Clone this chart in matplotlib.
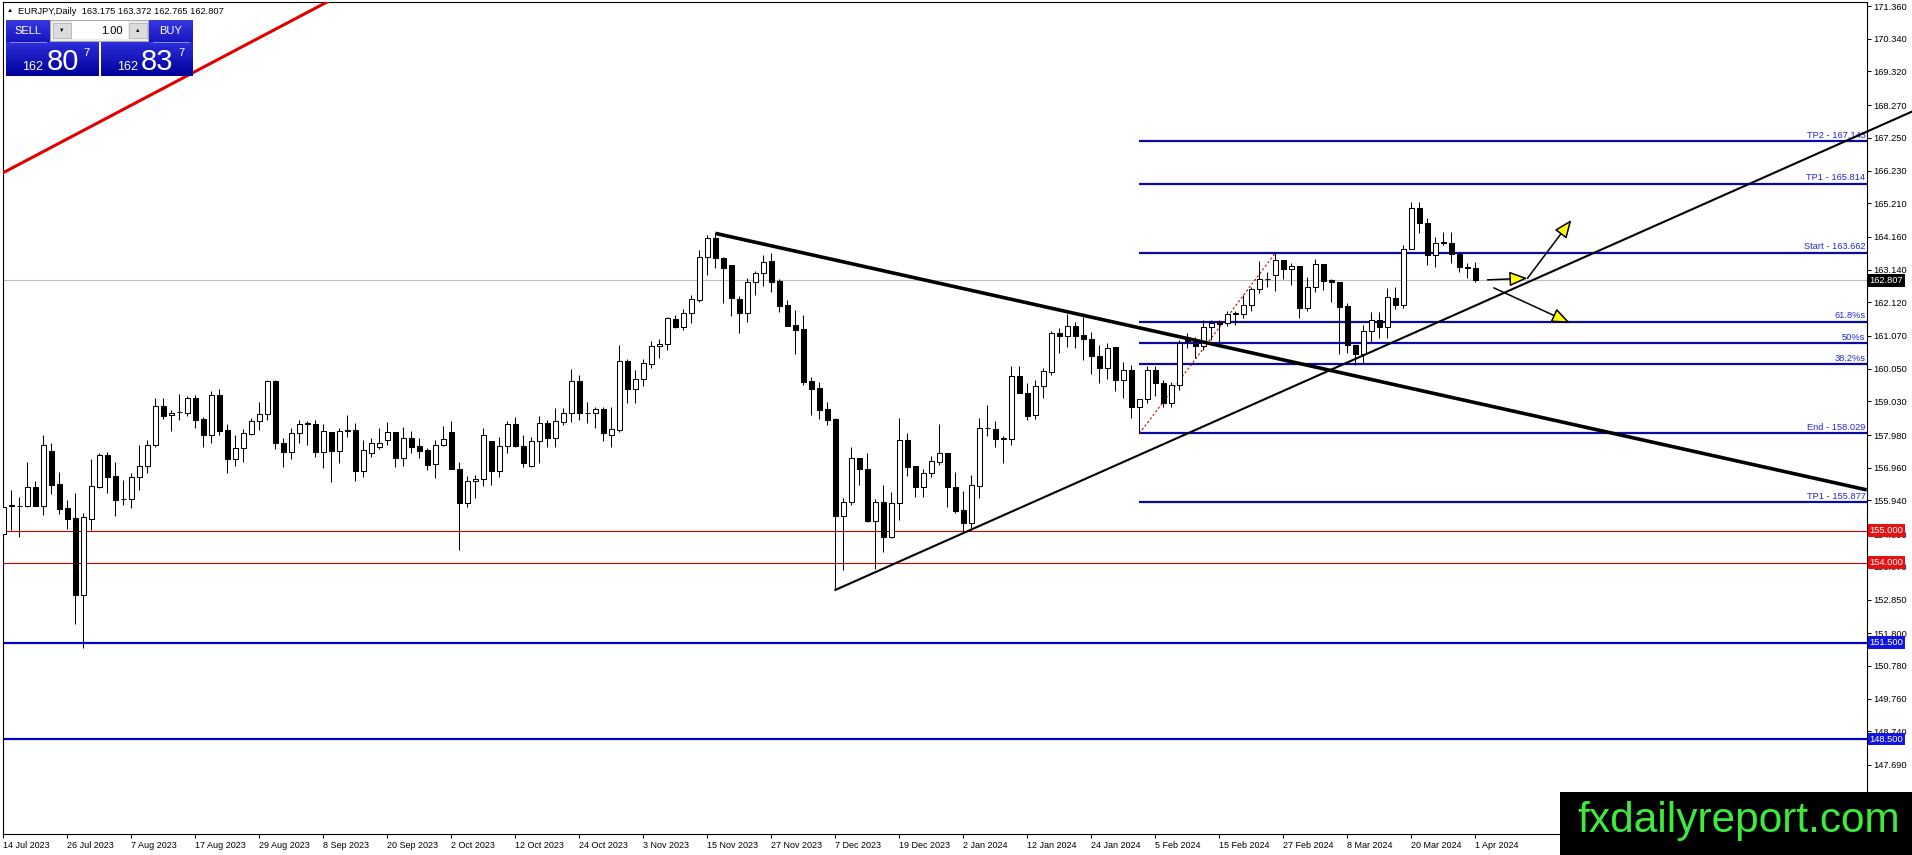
import numpy as np
import matplotlib.pyplot as plt
from matplotlib.patches import Rectangle, FancyArrowPatch
from matplotlib.transforms import blended_transform_factory

plt.rcParams['font.family'] = ['Liberation Sans', 'DejaVu Sans']

# EURJPY daily candles, 14 Jul 2023 .. 1 Apr 2024
opens = [154.90, 155.78, 155.78, 155.78, 156.35, 155.78, 157.49, 156.46, 155.70, 155.38,
         152.99, 155.36, 156.37, 157.36, 156.71, 155.98, 156.00, 156.66, 157.00, 157.67,
         158.89, 158.59, 158.69, 158.68, 159.13, 158.47, 157.98, 159.23, 158.14, 157.24,
         157.57, 158.02, 158.43, 158.64, 159.67, 157.72, 157.46, 158.04, 158.33, 158.32,
         157.46, 158.09, 157.49, 158.13, 158.14, 156.87, 157.43, 157.62, 157.83, 158.09,
         157.26, 157.88, 157.64, 157.52, 157.07, 157.67, 158.09, 156.92, 155.87, 156.55,
         156.61, 157.78, 156.86, 157.64, 158.33, 157.64, 157.00, 157.80, 158.35, 157.88,
         158.40, 158.68, 159.67, 158.68, 158.66, 158.78, 157.98, 158.14, 160.29, 159.41,
         159.72, 160.18, 160.76, 160.81, 161.59, 161.36, 161.78, 162.19, 163.52, 164.11,
         163.49, 163.28, 162.21, 161.80, 162.74, 163.02, 163.41, 162.78, 162.04, 161.41,
         161.28, 159.65, 159.44, 158.79, 158.47, 155.47, 155.90, 157.26, 156.91, 155.31,
         155.90, 154.79, 155.87, 157.84, 157.01, 156.37, 156.79, 157.15, 157.41, 156.35,
         155.64, 155.25, 156.40, 158.19, 158.17, 157.86, 157.85, 159.83, 159.30, 158.61,
         159.52, 159.96, 161.15, 161.07, 161.38, 161.10, 160.96, 160.45, 160.06, 160.74,
         159.70, 160.01, 158.87, 159.10, 160.01, 159.61, 158.97, 159.54, 160.94, 160.82,
         160.76, 161.36, 161.49, 161.46, 161.77, 161.75, 162.03, 162.52, 162.84, 162.97,
         163.44, 163.15, 163.25, 161.95, 162.60, 163.31, 162.81, 162.74, 162.00, 160.79,
         160.51, 161.23, 161.57, 161.34, 162.24, 162.04, 163.77, 165.05, 164.58, 163.59,
         163.98, 163.98, 163.62, 163.22, 163.175]
highs = [156.06, 156.27, 156.06, 157.15, 156.55, 157.98, 157.72, 156.82, 155.94, 156.16,
         155.54, 157.23, 157.43, 157.44, 157.15, 156.58, 156.81, 157.67, 157.83, 159.12,
         159.15, 158.76, 159.26, 159.20, 159.23, 158.54, 159.34, 159.41, 158.33, 157.98,
         158.16, 158.50, 159.02, 159.70, 159.70, 157.88, 158.19, 158.45, 158.43, 158.45,
         158.32, 158.09, 158.19, 158.61, 158.37, 157.83, 157.88, 158.19, 158.40, 158.09,
         158.24, 158.12, 157.88, 157.57, 157.83, 158.26, 158.42, 157.13, 156.70, 156.74,
         158.19, 157.78, 157.91, 158.43, 158.53, 157.98, 157.91, 158.56, 158.45, 158.81,
         158.81, 160.03, 159.85, 159.02, 158.84, 158.84, 158.87, 160.79, 160.34, 160.01,
         160.34, 160.92, 160.98, 161.67, 161.72, 161.90, 162.35, 163.75, 164.22, 164.27,
         163.54, 163.28, 162.32, 162.87, 163.10, 163.59, 163.67, 162.84, 162.19, 161.88,
         161.72, 159.80, 159.62, 159.02, 158.52, 156.01, 157.60, 157.26, 157.41, 155.97,
         156.42, 156.21, 158.50, 158.03, 157.01, 156.91, 157.33, 158.32, 157.41, 156.84,
         156.24, 156.74, 158.50, 158.91, 158.43, 157.95, 160.13, 160.13, 159.61, 159.70,
         160.06, 161.24, 161.31, 161.75, 161.49, 161.67, 161.20, 160.79, 160.84, 160.74,
         160.27, 160.17, 159.10, 160.13, 160.13, 159.70, 159.64, 160.94, 161.17, 161.05,
         161.57, 161.57, 161.57, 161.86, 161.85, 162.35, 162.61, 163.42, 163.07, 163.66,
         163.44, 163.33, 163.25, 162.91, 163.46, 163.31, 162.86, 162.74, 162.11, 160.79,
         161.41, 161.83, 161.83, 162.58, 162.61, 163.92, 165.26, 165.26, 164.74, 164.17,
         164.32, 164.32, 163.66, 163.33, 163.372]
lows = [154.08, 155.02, 154.79, 155.75, 155.76, 155.49, 156.14, 155.52, 155.05, 152.09,
        151.33, 155.02, 156.32, 156.16, 155.46, 155.80, 155.70, 156.27, 156.81, 157.60,
        158.47, 158.11, 158.45, 158.56, 158.19, 157.60, 157.72, 157.98, 156.79, 157.02,
        157.15, 157.98, 158.14, 158.45, 157.54, 156.97, 157.24, 157.72, 157.67, 157.29,
        156.94, 156.50, 157.10, 157.93, 156.56, 156.66, 157.29, 157.54, 157.67, 156.97,
        157.02, 157.41, 157.26, 156.89, 156.63, 157.64, 156.91, 154.38, 155.75, 156.01,
        156.39, 156.42, 156.68, 157.43, 157.62, 156.97, 156.97, 157.10, 157.60, 157.60,
        158.29, 158.40, 158.45, 158.35, 158.19, 157.80, 157.62, 158.08, 158.99, 158.99,
        159.52, 160.08, 160.37, 160.63, 161.31, 161.26, 161.46, 162.14, 162.97, 163.18,
        162.09, 161.70, 161.17, 161.49, 162.35, 162.63, 162.45, 161.83, 161.38, 160.51,
        159.54, 158.60, 158.47, 158.29, 153.15, 153.77, 155.80, 156.42, 155.28, 153.79,
        154.34, 154.76, 155.33, 156.70, 156.06, 156.06, 156.66, 157.05, 155.75, 155.56,
        155.00, 155.02, 156.01, 157.95, 157.62, 157.12, 157.67, 159.30, 158.45, 158.47,
        159.14, 159.85, 160.55, 160.73, 160.68, 160.32, 159.88, 159.61, 159.72, 159.34,
        159.15, 158.50, 158.03, 158.97, 159.20, 158.87, 158.87, 159.38, 160.68, 160.37,
        160.63, 160.94, 160.84, 161.38, 161.41, 161.64, 161.86, 162.40, 162.61, 162.48,
        162.84, 162.66, 161.62, 161.86, 162.45, 162.50, 162.14, 160.51, 160.55, 160.16,
        160.20, 160.89, 161.00, 161.00, 161.90, 161.93, 163.77, 164.27, 163.28, 163.23,
        163.90, 163.36, 163.07, 162.87, 162.765]
closes = [155.75, 155.79, 155.77, 156.35, 155.78, 157.67, 156.42, 155.68, 155.36, 152.99,
          155.42, 156.39, 157.36, 156.68, 155.96, 155.99, 156.66, 157.02, 157.67, 158.89,
          158.57, 158.68, 158.70, 159.13, 158.45, 157.98, 159.23, 158.11, 157.24, 157.57,
          158.04, 158.43, 158.64, 159.67, 157.72, 157.46, 158.04, 158.32, 158.35, 157.46,
          158.11, 157.49, 158.11, 158.11, 156.87, 157.52, 157.72, 157.72, 158.09, 157.26,
          157.88, 157.62, 157.49, 157.05, 157.67, 157.86, 156.92, 155.87, 156.55, 156.61,
          157.98, 156.86, 157.64, 158.33, 157.63, 157.10, 157.80, 158.35, 157.88, 158.42,
          158.66, 159.67, 158.68, 158.66, 158.78, 158.03, 158.16, 160.29, 159.41, 159.72,
          160.22, 160.76, 160.81, 161.62, 161.36, 161.80, 162.21, 163.52, 164.11, 163.49,
          163.18, 162.24, 161.80, 162.74, 163.02, 163.37, 162.76, 162.01, 161.38, 161.26,
          159.62, 159.42, 158.77, 158.45, 155.47, 155.90, 157.26, 156.91, 155.31, 155.90,
          154.79, 155.87, 157.84, 156.99, 156.37, 156.79, 157.17, 157.41, 156.35, 155.62,
          155.25, 156.42, 158.19, 158.21, 157.85, 157.88, 159.83, 159.30, 158.57, 159.52,
          159.98, 161.15, 161.07, 161.38, 161.07, 160.96, 160.45, 160.06, 160.71, 159.70,
          160.01, 158.87, 159.10, 160.01, 159.61, 158.97, 159.54, 160.84, 160.92, 160.76,
          161.36, 161.46, 161.44, 161.77, 161.78, 162.03, 162.52, 162.84, 162.85, 163.44,
          163.15, 163.25, 161.95, 162.60, 163.30, 162.79, 162.74, 161.98, 160.79, 160.51,
          161.23, 161.57, 161.34, 162.27, 162.04, 163.77, 165.05, 164.58, 163.59, 163.98,
          163.99, 163.62, 163.23, 163.20, 162.807]

dates = ['14 Jul 2023', '26 Jul 2023', '7 Aug 2023', '17 Aug 2023', '29 Aug 2023',
         '8 Sep 2023', '20 Sep 2023', '2 Oct 2023', '12 Oct 2023', '24 Oct 2023',
         '3 Nov 2023', '15 Nov 2023', '27 Nov 2023', '7 Dec 2023', '19 Dec 2023',
         '2 Jan 2024', '12 Jan 2024', '24 Jan 2024', '5 Feb 2024', '15 Feb 2024',
         '27 Feb 2024', '8 Mar 2024', '20 Mar 2024', '1 Apr 2024']
price_ticks = [171.360, 170.340, 169.320, 168.270, 167.250, 166.230, 165.210, 164.160,
               163.140, 162.120, 161.070, 160.050, 159.030, 157.980, 156.960, 155.940,
               154.890, 153.870, 152.850, 151.800, 150.780, 149.760, 148.740, 147.690]

# fibo expansion drawn from bar 142
fib_levels = [167.143, 165.814, 163.662, 161.510, 160.846, 160.181, 158.029, 155.877]
fib_labels = ['TP2 - 167.143', 'TP1 - 165.814', 'Start - 163.662', '61.8%s', '50%s',
              '38.2%s', 'End - 158.029', 'TP1 - 155.877']
fib_start = 142
red_levels = [155.0, 154.0]
blue_levels = [151.5, 148.5]
last_price = 162.807

# trendlines / arrows as (bar, price) anchors
down_trend = [(89, 164.27), (232.9, 156.27)]
up_trend = [(104, 153.15), (232.9, 167.44)]
red_trend = [(-0.1, 166.15), (40.2, 171.45)]
fib_base = [(142, 158.029), (159, 163.662)]
arrows = [[(185.5, 162.82), (190.5, 162.87)],
          [(190.5, 162.87), (196.0, 164.69)],
          [(186.3, 162.57), (195.8, 161.48)]]

W, H = 1912, 855
fig = plt.figure(figsize=(W / 100, H / 100), dpi=100)
fig.patch.set_facecolor('white')
ax = fig.add_axes([2.7 / W, (H - 834) / H, (1866.7 - 2.7) / W, (834 - 2) / H])
ax.set_xlim(-0.075, 232.9)
ax.set_ylim(145.538, 171.485)


def extend(p0, p1, xe):
    (x0, y0), (x1, y1) = p0, p1
    return y0 + (y1 - y0) / (x1 - x0) * (xe - x0)


# levels
ax.axhline(last_price, color='#bcbcbc', lw=0.8, zorder=1)
for v in red_levels:
    ax.axhline(v, color='#d40000', lw=0.8, zorder=1)
for v in blue_levels:
    ax.axhline(v, color='#0000cc', lw=1.6, zorder=1)
ax.hlines(fib_levels, fib_start, 232.9, color='#0a0aa6', lw=1.6, zorder=1)
for v, t in zip(fib_levels, fib_labels):
    ax.text(232.75, v + 0.05, t, ha='right', va='bottom', fontsize=6.7,
            color='#2626d4', zorder=2)
ax.plot([p[0] for p in fib_base], [p[1] for p in fib_base], color='#c00000',
        lw=0.8, ls=(0, (2, 2)), zorder=2)

# candles
o, h, l, c = map(np.array, (opens, highs, lows, closes))
x = np.arange(len(o))
up = c >= o
ax.vlines(x, l, h, color='black', lw=0.75, zorder=3)
lo = np.minimum(o, c)
bh = np.maximum(np.abs(c - o), 0.004)
ax.bar(x[up], bh[up], bottom=lo[up], width=0.6, facecolor='white',
       edgecolor='black', lw=0.75, zorder=4)
ax.bar(x[~up], bh[~up], bottom=lo[~up], width=0.6, facecolor='black',
       edgecolor='black', lw=0.75, zorder=4)

# trendlines
xd = [down_trend[0][0], 232.9]
ax.plot(xd, [down_trend[0][1], extend(*down_trend, 232.9)], color='black', lw=2.6,
        zorder=5, solid_capstyle='butt')
xu = [up_trend[0][0], 240]
ax.plot(xu, [up_trend[0][1], extend(*up_trend, 240)], color='black', lw=1.5,
        zorder=5, clip_on=False)
xr = [red_trend[0][0], 46]
ax.plot(xr, [red_trend[0][1], extend(*red_trend, 46)], color='#e00000', lw=2.2, zorder=5)

for (p0, p1) in arrows:
    ax.add_patch(FancyArrowPatch(p0, p1, arrowstyle='-|>,head_length=11,head_width=4.5',
                                 mutation_scale=1, fc='#ffff00', ec='black', lw=1.1,
                                 zorder=6, clip_on=False, shrinkA=0, shrinkB=0))

# axes styling
for s in ax.spines.values():
    s.set_linewidth(0.8)
ax.yaxis.tick_right()
ax.set_yticks(price_ticks)
ax.set_yticklabels([f'{v:.3f}' for v in price_ticks])
ax.tick_params(axis='y', direction='out', length=3, width=0.75, pad=1.5, labelsize=6.7)
ax.set_xticks(x[::8])
ax.set_xticklabels(dates, ha='left')
ax.tick_params(axis='x', direction='out', length=3, width=0.75, pad=2, labelsize=6.5)

trans = blended_transform_factory(ax.transAxes, ax.transData)


def price_box(v, fc):
    ax.text(1.0016, v, f'{v:.3f}', transform=trans, ha='left', va='center',
            fontsize=6.7, color='white', zorder=7, clip_on=False,
            bbox=dict(boxstyle='square,pad=0.2', fc=fc, ec='none'))


price_box(last_price, 'black')
for v in red_levels:
    price_box(v, '#e81212')
for v in blue_levels:
    price_box(v, '#1414e0')

# overlay in pixel coords: header, trade panel, watermark
ov = fig.add_axes([0, 0, 1, 1], zorder=10)
ov.axis('off')
ov.patch.set_visible(False)


def grad_box(x0, y0, x1, y1, top=(0.18, 0.18, 0.86), bottom=(0.0, 0.0, 0.6)):
    g = np.linspace(0, 1, 32)[:, None, None]
    img = np.array(top)[None, None, :] * (1 - g) + np.array(bottom)[None, None, :] * g
    ov.imshow(img, extent=(x0, x1, y1, y0), aspect='auto', interpolation='bilinear',
              zorder=1)


ov.text(10, 11, '\u25b2', fontsize=4.5, ha='center', va='center', color='black')
ov.text(18, 11, 'EURJPY,Daily  163.175 163.372 162.765 162.807', fontsize=6.7,
        ha='left', va='center', color='black')

grad_box(6, 20, 49.3, 42.7, top=(0.22, 0.22, 0.88), bottom=(0.08, 0.08, 0.74))
grad_box(149.3, 20, 192.7, 42.7, top=(0.22, 0.22, 0.88), bottom=(0.08, 0.08, 0.74))
grad_box(6, 42.7, 98.7, 76)
grad_box(101, 42.7, 192.7, 76)
ov.plot([10, 46], [41.7, 41.7], color='#8c8cff', lw=0.7, zorder=2)
ov.plot([152.7, 189.3], [41.7, 41.7], color='#8c8cff', lw=0.7, zorder=2)
ov.text(27.6, 31.5, 'SELL', fontsize=8, color='white', ha='center', va='center', zorder=3)
ov.text(171, 31.5, 'BUY', fontsize=8, color='white', ha='center', va='center', zorder=3)

ov.add_patch(Rectangle((50, 20), 98, 21, fc='#ececec', ec='#a8a8a8', lw=0.7, zorder=1))
ov.add_patch(Rectangle((53, 23), 18, 15, fc='#dcdcdc', ec='#b4b4b4', lw=0.6, zorder=2))
ov.add_patch(Rectangle((72, 21.5), 56, 18, fc='white', ec='none', zorder=2))
ov.add_patch(Rectangle((129, 23), 18, 15, fc='#dcdcdc', ec='#b4b4b4', lw=0.6, zorder=2))
ov.text(62, 30.5, '\u25bc', fontsize=4, ha='center', va='center', zorder=3)
ov.text(138, 30.5, '\u25b2', fontsize=4, ha='center', va='center', zorder=3)
ov.text(123, 30.5, '1.00', fontsize=8, ha='right', va='center', zorder=3)

for x0, big in [(6, '80'), (101, '83')]:
    ov.text(x0 + 27, 70, '162', fontsize=9, color='white', ha='center', va='baseline', zorder=3)
    ov.text(x0 + 56.5, 70, big, fontsize=21, color='white', ha='center', va='baseline', zorder=3)
    ov.text(x0 + 80, 56, '7', fontsize=8, color='white', ha='center', va='baseline', zorder=3)

ov.add_patch(Rectangle((1560, 792), 352, 63, fc='black', ec='none', zorder=4))
ov.text(1738.5, 821, 'fxdailyreport.com', fontsize=30.5, color='#3deb3d',
        ha='center', va='center', zorder=5)

ov.set_xlim(0, W)
ov.set_ylim(H, 0)

fig.savefig('out.png', dpi=100)
